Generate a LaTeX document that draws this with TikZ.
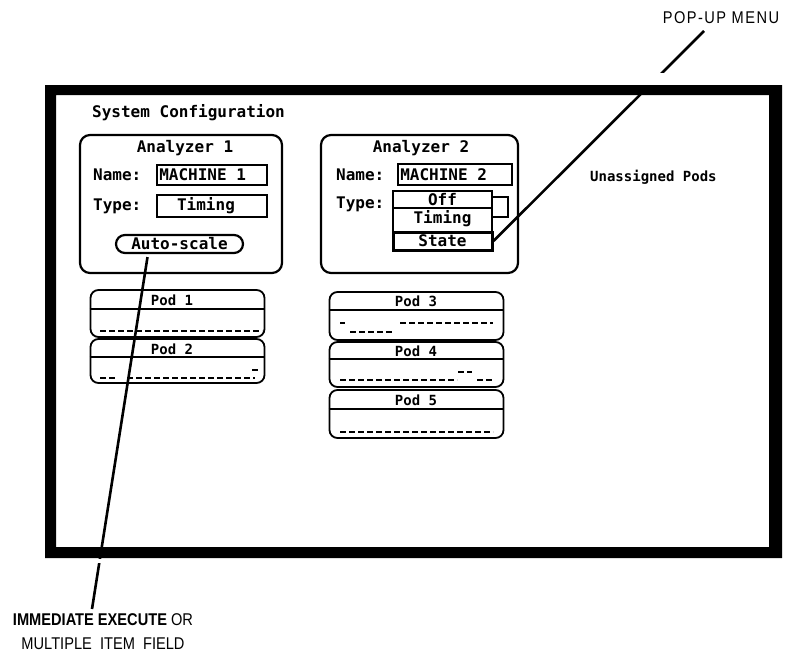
\documentclass[tikz,border=0pt]{standalone}
\usepackage{fontspec}
\newfontfamily\scr{DejaVu Sans Mono}
\newfontfamily\lab{Liberation Sans}
\newfontfamily\labsp{Liberation Sans}[LetterSpace=10]
\begin{document}
\begin{tikzpicture}[x=1pt,y=-1pt,
  panel/.style={draw, line width=2.2pt, rounded corners=10pt, inner sep=0},
  field/.style={draw, line width=1.8pt, inner sep=0, fill=white},
  podbox/.style={draw, line width=1.8pt, rounded corners=8pt, inner sep=0, minimum width=174},
  txt/.style={inner sep=0, font=\scr\bfseries\fontsize{16}{16}\selectfont},
  small/.style={inner sep=0, font=\scr\bfseries\fontsize{14}{14}\selectfont},
  dsh/.style={line width=1.8pt, dash pattern=on 6pt off 3pt},
  conn/.style={line width=2.6pt},
  hl/.style={line width=1.8pt}]
\useasboundingbox (0,0) rectangle (787,656);

% title
\node[txt, anchor=west] (sc) at (92,113) {System Configuration};

% Analyzer 1
\node[panel, minimum width=202, minimum height=138] (a1) at (181,204) {};
\node[txt] (a1t) at (185,148) {Analyzer 1};
\node[txt, anchor=west] (n1) at (93,175) {Name:};
\node[txt, anchor=west] (t1) at (93,206) {Type:};
\node[field, minimum width=110, minimum height=20] (m1) at (212,175) {};
\node[txt, anchor=west] at (m1.west) {\hspace{3pt}MACHINE 1};
\node[field, minimum width=110, minimum height=22] (tm1) at (212,206) {};
\node[txt] at (206,206) {Timing};
\node[draw, line width=2.2pt, rounded corners=9pt, minimum width=127, minimum height=18, inner sep=0] (as) at (179.5,244) {};
\node[txt] at (as) {Auto-scale};

% Analyzer 2
\node[panel, minimum width=197, minimum height=138] (a2) at (419.5,204) {};
\node[txt] (a2t) at (421,148) {Analyzer 2};
\node[txt, anchor=west] (n2) at (336,175) {Name:};
\node[txt, anchor=west] (t2) at (336,204) {Type:};
\node[field, minimum width=114, minimum height=21] (m2) at (455,174.5) {};
\node[txt, anchor=west] at (m2.west) {\hspace{3pt}MACHINE 2};
\node[field, minimum width=110, minimum height=20] (tf2) at (453,207) {};
% pop-up menu
\node[field, minimum width=99, minimum height=17] (off) at (442.5,199.5) {};
\node[txt] at (off) {Off};
\node[field, minimum width=99, minimum height=24] (tim) at (442.5,220) {};
\node[txt] at (442.5,219) {Timing};
\node[draw, fill=white, line width=3pt, inner sep=0, minimum width=99, minimum height=18] (st) at (442.5,241) {};
\node[txt] at (st) {State};

\node[small, anchor=west] (un) at (590,177) {Unassigned Pods};

% Pods left
\node[podbox, minimum height=47] (p1) at (177.5,313.5) {};
\draw[hl] ([yshift=-20pt]p1.north west) -- ([yshift=-20pt]p1.north east);
\node[small] at (172,300) {Pod 1};
\draw[dsh] (100,331) -- (262,331);

\node[podbox, minimum height=44] (p2) at (177.5,361) {};
\draw[hl] ([yshift=-19pt]p2.north west) -- ([yshift=-19pt]p2.north east);
\node[small] at (172,349) {Pod 2};
\draw[dsh] (100,378) -- (118,378);
\draw[dsh] (127,378) -- (255,378);
\draw[hl] (252,370) -- (258,370);

% Pods right
\node[podbox, minimum height=48] (p3) at (416.5,316) {};
\draw[hl] ([yshift=-19pt]p3.north west) -- ([yshift=-19pt]p3.north east);
\node[small] at (416,301) {Pod 3};
\draw[hl] (340,323) -- (345,323);
\draw[dsh] (400,323) -- (493,323);
\draw[dsh] (350,332) -- (393,332);

\node[podbox, minimum height=45] (p4) at (416.5,364.5) {};
\draw[hl] ([yshift=-18pt]p4.north west) -- ([yshift=-18pt]p4.north east);
\node[small] at (416,351) {Pod 4};
\draw[dsh] (458,372) -- (472,372);
\draw[dsh] (340,380) -- (457,380);
\draw[dsh] (477,380) -- (493,380);

\node[podbox, minimum height=48] (p5) at (416.5,414) {};
\draw[hl] ([yshift=-20pt]p5.north west) -- ([yshift=-20pt]p5.north east);
\node[small] at (416,400) {Pod 5};
\draw[dsh] (340,432) -- (493,432);

% labels
\node[inner sep=0, font=\labsp\fontsize{17}{17}\selectfont] (pu) at (721,18) {\scalebox{0.86}[1]{POP-UP MENU}};
\coordinate (puend) at (704,31);
\node[inner sep=0, align=center, anchor=north, font=\lab\fontsize{17}{24}\selectfont] (ie) at (103,613)
  {\scalebox{0.86}[1]{\bfseries IMMEDIATE EXECUTE \mdseries OR}\\\scalebox{0.86}[1]{MULTIPLE\ \ ITEM\ \ FIELD}};
\coordinate (ieend) at (92,609);

% connectors
\draw[conn] ([xshift=-32pt,yshift=-3pt]as.south) -- (ieend);
\draw[conn] (st.east) -- (puend);

% screen frame
\fill[even odd rule] (45,85) rectangle (782,558) (56,95) rectangle (769,547);
\fill[white] (80,558.5) rectangle (115,563);
\fill[white] (640,73) rectangle (690,84.5);
\end{tikzpicture}
\end{document}
